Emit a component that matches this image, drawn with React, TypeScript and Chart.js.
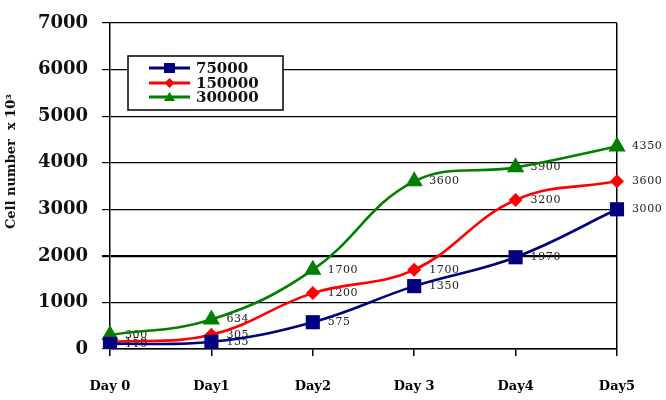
import { useEffect, useRef } from "react";
import { Chart, registerables } from "chart.js";
Chart.register(...registerables);

const categories = ["Day 0", "Day1", "Day2", "Day 3", "Day4", "Day5"];
const series75000 = [110, 155, 575, 1350, 1970, 3000];
const series150000 = [150, 305, 1200, 1700, 3200, 3600];
const series300000 = [300, 634, 1700, 3600, 3900, 4350];
const seriesNames = ["75000", "150000", "300000"];
const seriesColors = ["#000080", "#ff0000", "#008000"];
const yMin = 0;
const yMax = 7000;
const yStep = 1000;
const yTitle = "Cell number  x 10³";

const overlayPlugin = {
  id: "overlay",
  beforeDatasetsDraw(chart: any) {
    const ctx = chart.ctx;
    ctx.save();
    ctx.font = "11px 'DejaVu Serif'";
    (ctx as any).letterSpacing = "0.6px";
    ctx.fillStyle = "#222";
    ctx.textAlign = "left";
    ctx.textBaseline = "middle";
    chart.data.datasets.forEach((ds: any, i: number) => {
      const meta = chart.getDatasetMeta(i);
      meta.data.forEach((pt: any, j: number) => {
        ctx.fillText(String(ds.data[j]), pt.x + 15, pt.y);
      });
    });
    ctx.restore();
  },
  afterDraw(chart: any) {
    const ctx = chart.ctx;
    const area = chart.chartArea;
    // y-axis title
    ctx.save();
    ctx.translate(12, area.top + (area.bottom - area.top) * 0.425);
    ctx.rotate(-Math.PI / 2);
    ctx.font = "bold 13px 'DejaVu Serif'";
    ctx.fillStyle = "#111";
    ctx.textAlign = "center";
    ctx.textBaseline = "middle";
    ctx.fillText(yTitle, 0, 0);
    ctx.restore();
    // legend
    const bx = area.left + 18;
    const by = area.top + 33;
    const bw = 155;
    const bh = 54;
    ctx.save();
    ctx.fillStyle = "#fff";
    ctx.fillRect(bx, by, bw, bh);
    ctx.strokeStyle = "#000";
    ctx.lineWidth = 1.5;
    ctx.strokeRect(bx, by, bw, bh);
    ctx.font = "bold 15px 'DejaVu Serif'";
    ctx.textAlign = "left";
    ctx.textBaseline = "middle";
    const rows = [by + 12, by + 27, by + 41];
    chart.data.datasets.forEach((ds: any, i: number) => {
      const y = rows[i];
      ctx.strokeStyle = ds.borderColor;
      ctx.lineWidth = 3;
      ctx.beginPath();
      ctx.moveTo(bx + 21, y);
      ctx.lineTo(bx + 62, y);
      ctx.stroke();
      ctx.fillStyle = ds.borderColor;
      ctx.beginPath();
      if (i === 0) {
        ctx.rect(bx + 36, y - 5, 11, 10);
      } else if (i === 1) {
        ctx.moveTo(bx + 41.5, y - 5);
        ctx.lineTo(bx + 46.5, y);
        ctx.lineTo(bx + 41.5, y + 5);
        ctx.lineTo(bx + 36.5, y);
        ctx.closePath();
      } else {
        ctx.moveTo(bx + 41.5, y - 5);
        ctx.lineTo(bx + 47, y + 4);
        ctx.lineTo(bx + 36, y + 4);
        ctx.closePath();
      }
      ctx.fill();
      ctx.fillStyle = "#111";
      ctx.fillText(ds.label, bx + 68, y + 1);
    });
    ctx.restore();
  },
};

export default function App() {
  const ref = useRef<HTMLCanvasElement | null>(null);
  useEffect(() => {
    document.body.style.margin = "0";
    const canvas = ref.current;
    if (!canvas) return;
    const allSeries = [series75000, series150000, series300000];
    const styles = ["rect", "rectRot", "triangle"];
    const radii = [10, 7, 10];
    const chart = new Chart(canvas, {
      type: "line",
      data: {
        labels: categories,
        datasets: allSeries.map((s, i) => ({
          label: seriesNames[i],
          data: s,
          borderColor: seriesColors[i],
          backgroundColor: seriesColors[i],
          pointBackgroundColor: seriesColors[i],
          pointBorderColor: seriesColors[i],
          pointStyle: styles[i] as any,
          pointRadius: radii[i],
          pointBorderWidth: 0,
          borderWidth: 2.6,
          tension: 0.4,
          fill: false,
        })),
      },
      options: {
        animation: false,
        responsive: false,
        maintainAspectRatio: false,
        layout: { padding: { top: 10, right: 49, left: 0, bottom: 0 } },
        plugins: {
          legend: { display: false },
          tooltip: { enabled: false },
        },
        scales: {
          x: {
            offset: false,
            afterFit: (s: any) => {
              s.height = 51;
            },
            grid: {
              color: (c: any) => (c.index === categories.length - 1 ? "#000" : "transparent"),
              tickColor: "#000",
              tickLength: 7,
              lineWidth: 1.5,
            },
            border: { display: true, color: "#000", width: 1.5 },
            ticks: {
              color: "#000",
              padding: 23,
              maxRotation: 0,
              font: { family: "'DejaVu Serif'", size: 13, weight: "bold" },
            },
          },
          y: {
            min: yMin,
            max: yMax,
            afterFit: (s: any) => {
              s.width = 110;
            },
            grid: {
              color: "#000",
              tickColor: "#000",
              tickLength: 8,
              lineWidth: (c: any) => (c.tick && c.tick.value === 2000 ? 2.2 : 1.2),
            },
            border: { display: true, color: "#000", width: 1.5 },
            ticks: {
              stepSize: yStep,
              color: "#111",
              padding: 14,
              callback: (v: any) => String(v),
              font: { family: "'DejaVu Serif'", size: 18, weight: "bold", lineHeight: 1 },
            },
          },
        },
      },
      plugins: [overlayPlugin],
    });
    return () => chart.destroy();
  }, []);
  return (
    <div style={{ width: 666, height: 400 }}>
      <canvas ref={ref} width={666} height={400} />
    </div>
  );
}
